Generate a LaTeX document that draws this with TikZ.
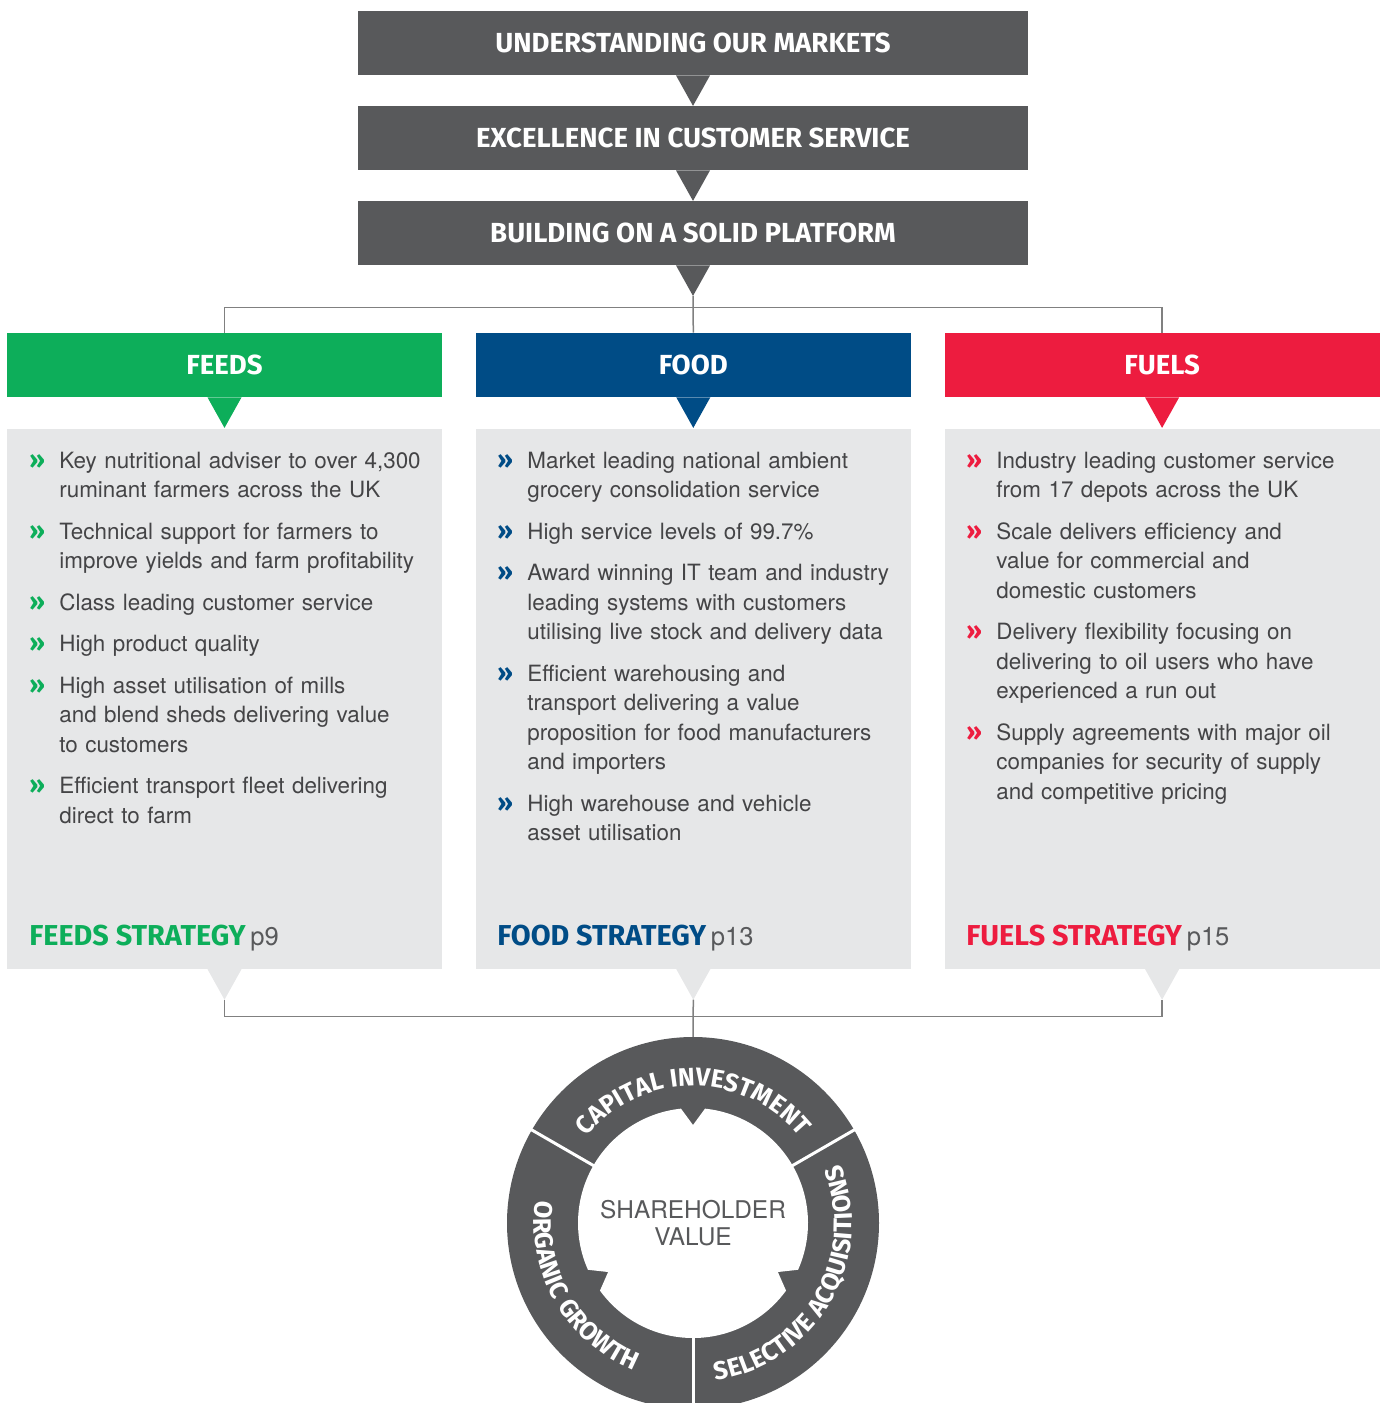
\documentclass[tikz,border=0pt]{standalone}
\usepackage{fontspec}
\setmainfont{TeX Gyre Heros}
\newfontfamily\din{Fira Sans}
\usetikzlibrary{positioning,decorations.text}

\definecolor{slate}{RGB}{88,89,91}
\definecolor{feedsgreen}{RGB}{13,174,90}
\definecolor{foodblue}{RGB}{0,76,134}
\definecolor{fuelsred}{RGB}{237,28,63}
\definecolor{panelgrey}{RGB}{230,231,232}
\definecolor{bodytext}{RGB}{68,68,70}
\definecolor{linkgrey}{RGB}{128,128,128}

\newcommand{\point}[2]{{\let\\\newline\hangindent=15pt\hangafter=1\noindent\makebox[15pt][l]{\textcolor{#1}{\din\bfseries\fontsize{12.5}{12}\selectfont »}}#2\par}\vspace{6pt}}
\newcommand{\pointer}[3]{\fill[#2] ([xshift=-8.5pt]#1.south) -- ([xshift=8.5pt]#1.south) -- ([yshift=-15.25pt]#1.south) coordinate (#3) -- cycle;}
\newcommand{\strategy}[3]{{\color{#1}#2}\,{\fontfamily{\rmdefault}\mdseries\fontsize{12.8}{14}\selectfont\color{slate}#3}}
\newcommand{\ringfont}{\din\bfseries\fontsize{12.7}{14}\selectfont}

\begin{document}
\begin{tikzpicture}[x=0.5pt,y=-0.5pt,
  banner/.style={fill=slate, text=white, minimum width=335pt, minimum height=32pt, inner sep=0pt, font=\din\bfseries\fontsize{13.8}{14}\selectfont},
  header/.style={fill=#1, text=white, minimum width=217.5pt, minimum height=32pt, inner sep=0pt, font=\din\bfseries\fontsize{13.8}{14}\selectfont},
  panel/.style={fill=panelgrey, minimum width=217.5pt, minimum height=270pt, inner sep=0pt, below=15.5pt of #1},
  points/.style={anchor=base west, inner sep=0pt, text width=205pt, text=bodytext, font=\fontsize{11.2}{14.75}\selectfont},
  strat/.style={anchor=base west, inner sep=0pt, font=\din\bfseries\fontsize{14.4}{15}\selectfont},
  link/.style={draw=linkgrey, line width=0.75pt},
  ringtext/.style={decorate, decoration={text along path, text={|\ringfont|#1}, text align=center, text color=white}}]
\useasboundingbox (0,0) rectangle (1382,1403);

\node[banner] (markets) at (693,43) {UNDERSTANDING OUR MARKETS};
\node[banner] (service) at (693,138) {EXCELLENCE IN CUSTOMER SERVICE};
\node[banner] (platform) at (693,233) {BUILDING ON A SOLID PLATFORM};
\pointer{markets}{slate}{marketstip}
\pointer{service}{slate}{servicetip}
\pointer{platform}{slate}{platformtip}

\node[header=feedsgreen] (feeds) at (224.5,365) {FEEDS};
\node[header=foodblue, right=16.5pt of feeds] (food) {FOOD};
\node[header=fuelsred, right=16.5pt of food] (fuels) {FUELS};

\node[panel=feeds] (feedsbox) {};
\node[panel=food] (foodbox) {};
\node[panel=fuels] (fuelsbox) {};
\pointer{feeds}{feedsgreen}{feedsin}
\pointer{food}{foodblue}{foodin}
\pointer{fuels}{fuelsred}{fuelsin}
\pointer{feedsbox}{panelgrey}{feedstip}
\pointer{foodbox}{panelgrey}{foodtip}
\pointer{fuelsbox}{panelgrey}{fuelstip}

\draw[link] (platformtip) -- (food.north);
\draw[link] (feeds.north) -- ++(0,-25) -| (fuels.north);

\node[points] (feedslist) at (29,468) {%
\point{feedsgreen}{Key nutritional adviser to over 4,300\\ruminant farmers across the UK}
\point{feedsgreen}{Technical support for farmers to\\improve yields and farm profitability}
\point{feedsgreen}{Class leading customer service}
\point{feedsgreen}{High product quality}
\point{feedsgreen}{High asset utilisation of mills\\and blend sheds delivering value\\to customers}
\point{feedsgreen}{Efficient transport fleet delivering\\direct to farm}};
\node[points] (foodlist) at (497,468) {%
\point{foodblue}{Market leading national ambient\\grocery consolidation service}
\point{foodblue}{High service levels of 99.7\%}
\point{foodblue}{Award winning IT team and industry\\leading systems with customers\\utilising live stock and delivery data}
\point{foodblue}{Efficient warehousing and\\transport delivering a value\\proposition for food manufacturers\\and importers}
\point{foodblue}{High warehouse and vehicle\\asset utilisation}};
\node[points] (fuelslist) at (966,468) {%
\point{fuelsred}{Industry leading customer service\\from 17 depots across the UK}
\point{fuelsred}{Scale delivers efficiency and\\value for commercial and\\domestic customers}
\point{fuelsred}{Delivery flexibility focusing on\\delivering to oil users who have\\experienced a run out}
\point{fuelsred}{Supply agreements with major oil\\companies for security of supply\\and competitive pricing}};

\node[strat] (feedsplan) at (29,945) {\strategy{feedsgreen}{FEEDS STRATEGY}{p9}};
\node[strat] (foodplan) at (497,945) {\strategy{foodblue}{FOOD STRATEGY}{p13}};
\node[strat] (fuelsplan) at (966,945) {\strategy{fuelsred}{FUELS STRATEGY}{p15}};

\coordinate (hub) at (693,1223);
\coordinate (ringtop) at (693,1037);
\draw[link] (feedstip) -- ++(0,17) -| (fuelstip);
\draw[link] (foodtip) -- (ringtop);

\begin{scope}[shift={(hub)}, y=0.5pt]
\fill[slate] (0,0) circle[radius=186];
\fill[white] (96:115) arc[start angle=96, end angle=204, radius=115] -- (210:98) -- (216:115)
  arc[start angle=216, end angle=324, radius=115] -- (330:98) -- (336:115)
  arc[start angle=336, end angle=444, radius=115] -- (90:98) -- cycle;
\foreach \a in {30,150,270}
  \draw[white, line width=1.5pt] (\a:112) -- (\a:190);
\path[ringtext={CAPITAL INVESTMENT}] (150:137) arc[start angle=150, end angle=30, radius=137];
\path[ringtext={ORGANIC GROWTH}] (150:159) arc[start angle=150, end angle=270, radius=159];
\path[ringtext={SELECTIVE ACQUISITIONS}] (270:159) arc[start angle=270, end angle=390, radius=159];
\end{scope}
\node[text=slate, align=center, inner sep=0pt, font=\fontsize{12.2}{13.5}\selectfont] (value) at (hub) {SHAREHOLDER\\VALUE};
\end{tikzpicture}
\end{document}
